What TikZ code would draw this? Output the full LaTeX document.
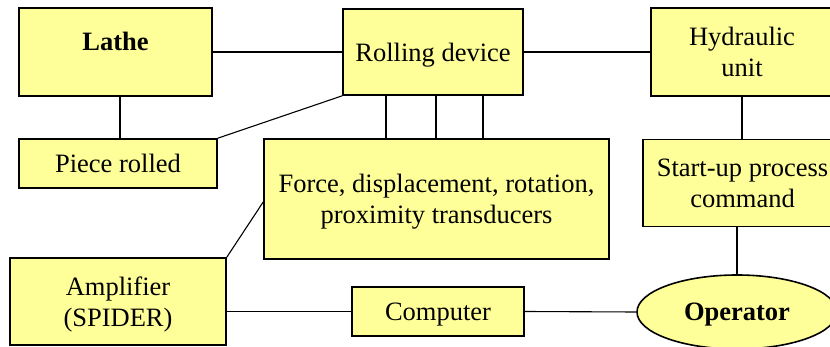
\documentclass[tikz,border=0pt]{standalone}
\usepackage{fontspec}
\setmainfont{Liberation Serif}
\newfontfamily\timesfont{Liberation Serif}
\usetikzlibrary{shapes.geometric}
\definecolor{boxyellow}{HTML}{FFFF99}
\begin{document}
\begin{tikzpicture}[x=1pt,y=-1pt,
  box/.style={draw=black, line width=1.6pt, fill=boxyellow, inner sep=0pt, align=center,
    text depth=0pt, font=\timesfont\fontsize{26.5}{31.5}\selectfont},
  boldbox/.style={box, font=\timesfont\fontsize{26.5}{31.5}\selectfont\bfseries},
  link/.style={draw=black, line width=1.1pt}]
\useasboundingbox (0,0) rectangle (830,347);
\clip (0,0) rectangle (830,347);
\node[boldbox, minimum width=193pt, minimum height=88pt, text depth=22pt] (lathe) at (115.5,52) {Lathe};
\node[box, minimum width=180pt, minimum height=86pt] (rolling) at (433,52) {Rolling device};
\node[box, minimum width=182pt, minimum height=88pt] (hydraulic) at (742,52) {Hydraulic\\unit};
\node[box, minimum width=198pt, minimum height=49pt] (piece) at (118,163.5) {Piece rolled};
\node[box, minimum width=345pt, minimum height=120pt] (force) at (436.5,199) {Force, displacement, rotation,\\proximity transducers};
\node[box, minimum width=199pt, minimum height=87pt] (startup) at (742.5,183) {Start-up process\\command};
\node[box, minimum width=216pt, minimum height=87pt] (amp) at (118,301.5) {Amplifier\\(SPIDER)};
\node[box, minimum width=172pt, minimum height=49pt] (computer) at (438,311.5) {Computer};
\node[boldbox, ellipse, minimum width=200pt, minimum height=74pt] (operator) at (737,312) {Operator};

\draw[link] (lathe.east) -- (rolling.west);
\draw[link] ([xshift=4.5pt]lathe.south) -- ([xshift=2pt]piece.north);
\draw[link] (rolling.south west) -- (piece.north east);
\draw[link] ([xshift=-47pt]rolling.south) -- ([xshift=-47pt]rolling.south |- force.north);
\draw[link] ([xshift=3pt]rolling.south) -- ([xshift=3pt]rolling.south |- force.north);
\draw[link] ([xshift=50pt]rolling.south) -- ([xshift=50pt]rolling.south |- force.north);
\draw[link] (rolling.east) -- (hydraulic.west);
\draw[link] (hydraulic.south) -- (hydraulic.south |- startup.north);
\draw[link] (startup.south -| operator.north) -- (operator.north);
\draw[link] ([yshift=-3pt]force.west) -- (amp.north east);
\draw[link] (amp.east |- computer.west) -- (computer.west);
\draw[link] (computer.east) -- (operator.west);
\end{tikzpicture}
\end{document}
